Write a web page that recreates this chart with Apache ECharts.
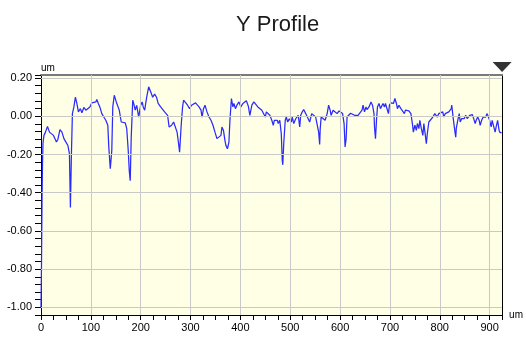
<!DOCTYPE html>
<html>
<head>
<meta charset="utf-8">
<script src="https://cdn.jsdelivr.net/npm/echarts@6/dist/echarts.min.js"></script>
<style>
  html, body { margin: 0; padding: 0; background: #ffffff; }
  #chart { width: 526px; height: 337px; }
</style>
</head>
<body>
<div id="chart"></div>
<script>
// Profile position along the scan (um)
const profileX = [
  0, 1, 2, 3, 4, 6, 9, 13, 17, 21, 25, 27, 31, 34, 38, 42, 46, 50, 54, 57,
  59, 61, 63, 66, 69, 72, 75, 79, 82, 86, 90, 94, 98, 102, 106, 110, 112, 115, 118, 122,
  126, 130, 134, 136, 139, 142, 144, 147, 151, 153, 157, 161, 165, 169, 172, 175, 177, 179, 181, 184,
  187, 189, 192, 196, 200, 203, 205, 208, 212, 216, 220, 224, 228, 232, 235, 237, 240, 244, 248, 252,
  254, 257, 260, 262, 266, 270, 273, 276, 278, 281, 284, 286, 290, 294, 298, 302, 306, 310, 313, 317,
  321, 323, 326, 329, 333, 337, 341, 345, 349, 353, 357, 361, 363, 366, 369, 371, 374, 377, 379, 382,
  385, 387, 390, 393, 397, 401, 405, 408, 412, 416, 419, 423, 427, 431, 435, 439, 443, 447, 450, 452,
  456, 459, 463, 466, 468, 471, 474, 476, 479, 482, 484, 485, 487, 490, 492, 495, 498, 502, 504, 507,
  511, 514, 516, 519, 521, 524, 527, 531, 535, 539, 543, 547, 551, 554, 557, 559, 560, 562, 566, 570,
  574, 577, 580, 582, 586, 590, 594, 598, 602, 605, 608, 610, 612, 614, 617, 621, 625, 629, 632, 636,
  640, 644, 646, 649, 652, 654, 658, 662, 665, 668, 669, 671, 673, 675, 678, 681, 683, 686, 689, 691,
  694, 697, 699, 702, 705, 707, 710, 713, 715, 718, 722, 725, 729, 731, 734, 738, 740, 742, 745, 747,
  750, 753, 755, 758, 760, 763, 766, 768, 771, 773, 775, 778, 782, 786, 790, 792, 795, 798, 802, 806,
  808, 811, 815, 818, 820, 823, 824, 827, 830, 832, 833, 836, 839, 841, 844, 847, 849, 852, 855, 857,
  860, 863, 865, 868, 871, 873, 876, 879, 881, 884, 887, 889, 892, 895, 897, 900, 903, 905, 908, 911,
  913, 916, 919, 921, 924
];

// Measured height (um)
const profileY = [
  -1.0, -0.78, -0.45, -0.25, -0.14, -0.10, -0.083, -0.053, -0.083, -0.074, -0.10, -0.09, -0.135, -0.12, -0.07, -0.083, -0.117, -0.135, -0.153, -0.196,
  -0.477, -0.20, 0.014, 0.049, 0.10, 0.067, 0.023, 0.04, 0.018, 0.046, 0.032, 0.032, 0.049, 0.07, 0.067, 0.075, 0.088, 0.067, 0.049, 0.014,
  -0.004, -0.021, -0.047, -0.16, -0.275, -0.179, 0.049, 0.11, 0.075, 0.075, 0.032, -0.03, -0.026, -0.035, -0.065, -0.179, -0.284, -0.337, -0.109, 0.084,
  0.057, 0.032, 0.057, -0.004, 0.058, 0.075, 0.049, 0.032, 0.10, 0.154, 0.128, 0.10, 0.116, 0.098, 0.067, 0.075, 0.049, 0.04, 0.023, 0.023,
  0.005, -0.056, -0.065, -0.047, -0.03, -0.04, -0.083, -0.144, -0.188, -0.056, 0.049, 0.084, 0.075, 0.058, 0.04, 0.058, 0.049, 0.07, 0.067, 0.049,
  0.032, -0.004, 0.04, 0.058, 0.023, -0.004, -0.021, -0.047, -0.083, -0.117, -0.109, -0.10, -0.056, -0.074, -0.126, -0.153, -0.17, -0.135, -0.021, 0.093,
  0.049, 0.067, 0.04, 0.058, 0.075, 0.049, 0.067, 0.075, 0.081, 0.052, 0.005, 0.058, 0.075, 0.067, 0.049, 0.058, 0.032, 0.04, -0.004, 0.023,
  0.032, 0.005, -0.021, -0.047, -0.021, -0.013, -0.021, -0.038, -0.021, -0.091, -0.232, -0.254, -0.14, -0.021, -0.004, -0.03, -0.013, -0.03, -0.004, -0.038,
  -0.013, -0.021, 0.005, -0.056, 0.005, 0.023, 0.035, 0.014, 0.023, -0.03, 0.014, 0.014, -0.004, -0.004, -0.083, -0.147, -0.07, -0.004, -0.004, -0.021,
  0.014, 0.058, 0.032, 0.005, 0.032, 0.023, 0.014, 0.028, 0.032, 0.014, -0.038, -0.161, -0.12, -0.004, 0.005, 0.016, 0.023, 0.005, 0.005, 0.005,
  0.014, 0.032, 0.058, 0.023, 0.049, 0.035, 0.049, 0.075, 0.058, 0.014, -0.056, -0.117, -0.021, 0.049, 0.067, 0.04, 0.032, 0.067, 0.049, 0.067,
  0.075, 0.014, 0.058, 0.07, 0.075, 0.067, 0.093, 0.067, 0.04, 0.058, 0.04, 0.032, 0.014, 0.032, 0.023, 0.028, 0.032, 0.014, -0.038, -0.083,
  -0.047, -0.074, -0.038, -0.065, -0.021, -0.065, -0.10, -0.038, -0.10, -0.144, -0.09, -0.03, -0.021, -0.004, 0.014, 0.005, -0.004, 0.014, 0.005, 0.023,
  -0.004, 0.014, 0.009, 0.023, 0.014, 0.04, 0.058, -0.012, -0.074, -0.109, -0.065, -0.021, 0.014, -0.03, -0.012, -0.004, -0.012, 0.005, -0.012, -0.021,
  0.005, -0.004, 0.009, -0.012, -0.038, -0.021, -0.004, -0.021, -0.047, -0.021, -0.004, 0.005, -0.004, 0.014, 0.005, -0.021, -0.056, -0.021, -0.03, -0.083,
  -0.056, -0.021, -0.074, -0.086, -0.086
];

// Axis ranges and tick steps
const xMin = 0, xMax = 925, xTickStep = 25, xLabelStep = 100;
const yMin = -1.04, yMax = 0.216, yTickStep = 0.04, yLabelStep = 0.2;

// Grid line positions
const xGridValues = [100, 200, 300, 400, 500, 600, 700, 800, 900];
const yGridValues = [0.2, 0, -0.2, -0.4, -0.6, -0.8, -1.0];

// Cursor marker position (top of the scan end)
const cursorPoint = [xMax, yMax];

const FONT = "'Liberation Sans', Arial, sans-serif";

function isStep(v, step) {
  const r = v / step;
  return Math.abs(r - Math.round(r)) < 1e-6;
}

const chart = echarts.init(document.getElementById('chart'), null, { renderer: 'canvas' });

const gridLineData = []
  .concat(xGridValues.map(v => ({ xAxis: v })))
  .concat(yGridValues.map(v => ({ yAxis: v })));

chart.setOption({
  animation: false,
  backgroundColor: '#ffffff',
  title: {
    text: 'Y Profile',
    left: 231,
    top: 9,
    textStyle: { fontFamily: FONT, fontSize: 22, fontWeight: 'normal', color: '#1a1a1a' }
  },
  grid: {
    left: 41, right: 21, top: 75, bottom: 22,
    show: true,
    backgroundColor: '#FFFFE6',
    borderWidth: 0
  },
  xAxis: [
    {
      type: 'value',
      min: xMin, max: xMax, interval: xTickStep,
      name: 'um',
      nameLocation: 'end',
      nameGap: 7,
      nameTextStyle: { fontFamily: FONT, fontSize: 10, color: '#000', verticalAlign: 'middle', padding: [0, 0, 8, 0] },
      axisLine: { show: true, onZero: false, lineStyle: { color: '#000', width: 1 } },
      axisTick: { show: true, length: 5, inside: false, lineStyle: { color: '#000', width: 1 } },
      axisLabel: {
        show: true, margin: 7,
        fontFamily: FONT, fontSize: 11, color: '#000',
        formatter: v => isStep(v, xLabelStep) ? String(Math.round(v)) : ''
      },
      splitLine: { show: false }
    },
    {
      type: 'value',
      position: 'top',
      min: xMin, max: xMax, interval: xLabelStep,
      axisLine: { show: true, onZero: false, lineStyle: { color: '#7a7a7a', width: 2 } },
      axisTick: { show: false },
      axisLabel: { show: false },
      splitLine: { show: false }
    }
  ],
  yAxis: [
    {
      type: 'value',
      min: yMin, max: yMax, interval: yTickStep,
      name: 'um',
      nameLocation: 'end',
      nameGap: 2,
      nameTextStyle: { fontFamily: FONT, fontSize: 10, color: '#000', align: 'left', verticalAlign: 'bottom' },
      axisLine: { show: true, onZero: false, lineStyle: { color: '#000', width: 1 } },
      axisTick: { show: true, length: 6, inside: false, lineStyle: { color: '#000', width: 1 } },
      axisLabel: {
        show: true, margin: 9,
        fontFamily: FONT, fontSize: 11, color: '#000',
        formatter: v => isStep(v, yLabelStep) ? v.toFixed(2) : ''
      },
      splitLine: { show: false }
    },
    {
      type: 'value',
      position: 'right',
      min: yMin, max: yMax,
      axisLine: { show: true, onZero: false, lineStyle: { color: '#000', width: 1 } },
      axisTick: { show: false },
      axisLabel: { show: false },
      splitLine: { show: false }
    }
  ],
  series: [
    {
      name: 'grid',
      type: 'line',
      data: [],
      silent: true,
      z: 1,
      markLine: {
        silent: true,
        symbol: ['none', 'none'],
        label: { show: false },
        lineStyle: { color: '#c9c9c9', type: 'solid', width: 1 },
        emphasis: { disabled: true },
        data: gridLineData
      }
    },
    {
      name: 'Y Profile',
      type: 'line',
      data: profileX.map((x, i) => [x, profileY[i]]),
      showSymbol: false,
      symbol: 'none',
      smooth: false,
      z: 3,
      lineStyle: { color: '#2a2aff', width: 1.25 }
    },
    {
      name: 'cursor',
      type: 'scatter',
      data: [cursorPoint],
      symbol: 'triangle',
      symbolSize: [19, 10],
      symbolRotate: 180,
      symbolOffset: [0, -8],
      clip: false,
      silent: true,
      z: 5,
      itemStyle: { color: '#000' }
    }
  ]
});
</script>
</body>
</html>
